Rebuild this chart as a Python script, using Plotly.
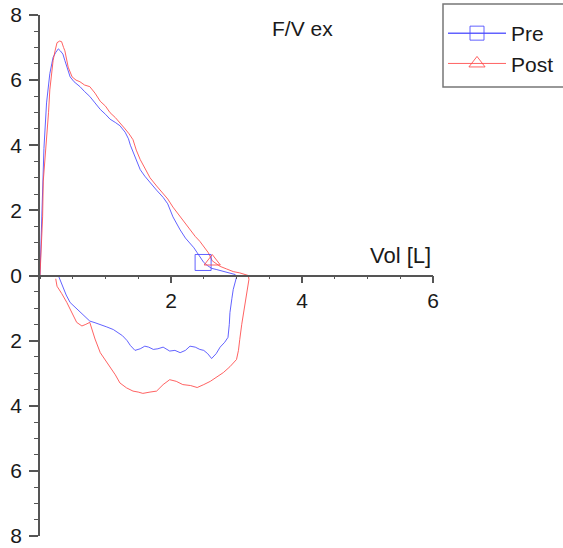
import plotly.graph_objects as go

# ---------------- data ----------------
pre_vol = [0.00, 0.02, 0.03, 0.06, 0.10, 0.13, 0.15, 0.18, 0.20, 0.24, 0.28, 0.31, 0.35, 0.38, 0.41,
           0.46, 0.52, 0.61, 0.68, 0.76, 0.84, 0.92, 1.00, 1.07, 1.15, 1.22, 1.30, 1.35, 1.38, 1.42,
           1.47, 1.53, 1.60, 1.68, 1.78, 1.88, 1.95, 2.03, 2.08, 2.14, 2.22, 2.29, 2.35, 2.40, 2.45,
           2.50, 2.56, 2.62, 2.70, 2.80, 2.90, 2.98,
           3.00, 2.99, 2.97, 2.95, 2.93, 2.91, 2.90, 2.89, 2.87, 2.82, 2.75, 2.69, 2.62, 2.56, 2.50,
           2.44, 2.37, 2.29, 2.22, 2.14, 2.06, 1.98, 1.93, 1.88, 1.80, 1.73, 1.66, 1.60, 1.53, 1.45,
           1.38, 1.33, 1.26, 1.20, 1.12, 1.02, 0.92, 0.84, 0.76, 0.68, 0.61, 0.53, 0.46, 0.40, 0.35,
           0.31, 0.28]
pre_flow = [0.00, 1.20, 2.40, 3.90, 5.30, 5.80, 6.20, 6.50, 6.70, 6.85, 6.96, 6.90, 6.80, 6.60, 6.40,
            6.10, 5.95, 5.80, 5.65, 5.50, 5.30, 5.10, 4.95, 4.80, 4.70, 4.60, 4.40, 4.20, 4.00, 3.80,
            3.50, 3.25, 3.05, 2.85, 2.62, 2.40, 2.20, 1.80, 1.60, 1.40, 1.15, 1.00, 0.85, 0.70, 0.55,
            0.40, 0.30, 0.22, 0.18, 0.12, 0.08, 0.03,
            -0.05, -0.12, -0.30, -0.43, -0.70, -1.00, -1.14, -1.50, -1.90, -2.05, -2.20, -2.40, -2.55,
            -2.40, -2.30, -2.27, -2.20, -2.17, -2.30, -2.37, -2.30, -2.32, -2.25, -2.20, -2.25, -2.27,
            -2.20, -2.17, -2.25, -2.30, -2.15, -2.00, -1.85, -1.76, -1.66, -1.58, -1.50, -1.45, -1.40,
            -1.25, -1.14, -0.98, -0.83, -0.60, -0.35, -0.12, 0.00]

post_vol = [0.00, 0.02, 0.04, 0.05, 0.08, 0.10, 0.13, 0.15, 0.18, 0.20, 0.23, 0.26, 0.30, 0.33, 0.36,
            0.38, 0.43, 0.49, 0.55, 0.61, 0.68, 0.76, 0.84, 0.92, 1.00, 1.07, 1.15, 1.22, 1.30, 1.36,
            1.42, 1.47, 1.53, 1.60, 1.68, 1.78, 1.88, 1.95, 2.03, 2.14, 2.22, 2.29, 2.37, 2.44, 2.50,
            2.57, 2.63, 2.69, 2.75, 2.85, 2.95, 3.05, 3.18,
            3.19, 3.16, 3.13, 3.10, 3.08, 3.05, 3.03, 3.00, 2.90, 2.80, 2.70, 2.60, 2.50, 2.40, 2.30,
            2.18, 2.08, 1.98, 1.88, 1.78, 1.68, 1.57, 1.50, 1.42, 1.32, 1.22, 1.15, 1.07, 1.00, 0.92,
            0.84, 0.76, 0.70, 0.64, 0.56, 0.48, 0.41, 0.33, 0.26, 0.24]
post_flow = [0.00, 0.80, 1.80, 2.90, 3.60, 4.20, 5.00, 5.70, 6.20, 6.60, 6.90, 7.15, 7.20, 7.18, 7.00,
             6.90, 6.40, 6.10, 6.00, 5.95, 5.85, 5.80, 5.60, 5.35, 5.20, 5.00, 4.85, 4.70, 4.50, 4.35,
             4.17, 3.85, 3.56, 3.30, 3.00, 2.75, 2.50, 2.35, 2.10, 1.80, 1.60, 1.40, 1.20, 1.05, 0.90,
             0.70, 0.45, 0.35, 0.28, 0.20, 0.12, 0.08, 0.00,
             -0.12, -0.50, -0.85, -1.14, -1.50, -1.96, -2.30, -2.58, -2.80, -2.98, -3.12, -3.25, -3.35,
             -3.44, -3.38, -3.35, -3.25, -3.20, -3.35, -3.55, -3.58, -3.62, -3.58, -3.55, -3.45, -3.30,
             -3.05, -2.80, -2.60, -2.37, -1.95, -1.44, -1.50, -1.55, -1.44, -1.10, -0.83, -0.55, -0.33,
             -0.10]

pre_marker_vol = [2.49]
pre_marker_flow = [0.40]
post_marker_vol = [2.63]
post_marker_flow = [0.43]

y_tickvals = [-8, -6, -4, -2, 0, 2, 4, 6, 8]
y_ticktext = ["8", "6", "4", "2", "0", "2", "4", "6", "8"]
x_tickvals = [2, 4, 6]
x_ticktext = ["2", "4", "6"]

BLUE = "rgba(70,70,255,0.85)"
RED = "rgba(255,70,70,0.85)"
FONT = "Liberation Sans, Arial, sans-serif"
TXT = "#1a1a1a"
AX = "#555"

fig = go.Figure()
fig.add_trace(go.Scatter(x=pre_vol, y=pre_flow, mode="lines", line=dict(color=BLUE, width=1),
                         showlegend=False))
fig.add_trace(go.Scatter(x=post_vol, y=post_flow, mode="lines", line=dict(color=RED, width=1),
                         showlegend=False))
fig.add_trace(go.Scatter(x=pre_marker_vol, y=pre_marker_flow, mode="markers",
                         marker=dict(symbol="square-open", size=16, color=BLUE, line=dict(width=1)),
                         showlegend=False))
fig.add_trace(go.Scatter(x=post_marker_vol, y=post_marker_flow, mode="markers",
                         marker=dict(symbol="triangle-up-open", size=14, color=RED, line=dict(width=1)),
                         showlegend=False))
# legend entries
fig.add_trace(go.Scatter(x=[None], y=[None], mode="lines+markers", name="Pre",
                         line=dict(color=BLUE, width=1.5),
                         marker=dict(symbol="square-open", size=14, color=BLUE, line=dict(width=1)),
                         legendgroup="a"))
fig.add_trace(go.Scatter(x=[None], y=[None], mode="lines+markers", name="Post",
                         line=dict(color=RED, width=1),
                         marker=dict(symbol="triangle-up-open", size=14, color=RED, line=dict(width=1)),
                         legendgroup="b"))

W = 563 - 40 - 130
H = 548 - 15 - 12

fig.update_layout(
    width=563, height=548,
    margin=dict(l=40, r=130, t=15, b=12, autoexpand=False),
    paper_bgcolor="white", plot_bgcolor="white",
    font=dict(family=FONT, size=21, color=TXT),
    xaxis=dict(range=[0, 6], anchor="free", position=0.5, showgrid=False, zeroline=False,
               showline=True, linecolor=AX, linewidth=1.5,
               tickvals=x_tickvals, ticktext=x_ticktext, ticks="outside", ticklen=7,
               tickcolor=AX, tickwidth=1.5,
               minor=dict(dtick=0.5, tick0=0, ticks="outside", ticklen=3, tickcolor=AX, tickwidth=1),
               tickfont=dict(size=21, color=TXT)),
    yaxis=dict(range=[-8, 8], showgrid=False, zeroline=False,
               showline=True, linecolor=AX, linewidth=1.5,
               tickvals=y_tickvals, ticktext=y_ticktext, ticks="outside", ticklen=9,
               tickcolor=AX, tickwidth=1.5, ticklabelstandoff=3,
               minor=dict(dtick=0.5, tick0=0, ticks="outside", ticklen=4, tickcolor=AX, tickwidth=1),
               tickfont=dict(size=21, color=TXT)),
    legend=dict(x=443 / 563, y=1 - 13 / 548, xref="container", yref="container",
                xanchor="left", yanchor="top", itemwidth=58,
                borderwidth=0, bgcolor="rgba(0,0,0,0)",
                font=dict(size=21, color=TXT), tracegroupgap=0),
    shapes=[
        dict(type="rect", xref="paper", yref="paper",
             x0=(443 - 40) / W, x1=(570 - 40) / W,
             y0=1 - (87 - 15) / H, y1=1 - (4 - 15) / H,
             line=dict(color="#777", width=1.5), fillcolor="rgba(0,0,0,0)", layer="below"),
    ],
    annotations=[
        dict(text="F/V ex", x=(302 - 40) / W, y=1 - (28 - 15) / H, xref="paper", yref="paper",
             xanchor="center", yanchor="middle",
             showarrow=False, font=dict(size=21, color=TXT)),
        dict(text="Vol [L]", x=(400 - 40) / W, y=1 - (256 - 15) / H, xref="paper", yref="paper",
             xanchor="center", yanchor="middle",
             showarrow=False, font=dict(size=22, color=TXT)),
    ],
)

fig.write_html("out.html", config={"displayModeBar": False},
               post_script="document.body.style.margin='0';")
